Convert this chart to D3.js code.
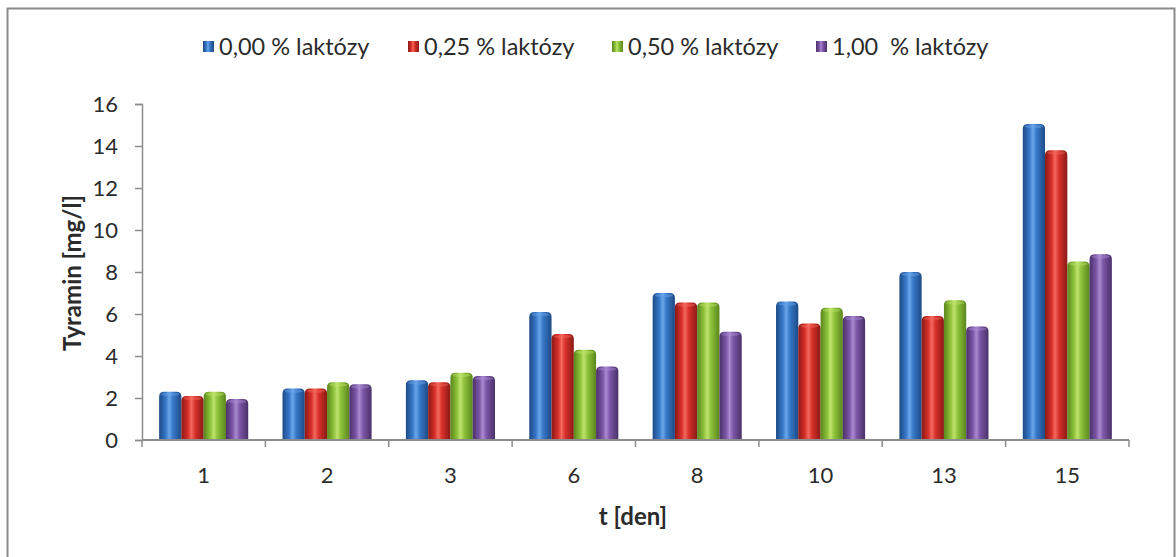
<!DOCTYPE html>
<html>
<head>
<meta charset="utf-8">
<script src="https://cdn.jsdelivr.net/npm/d3@7"></script>
<style>
  html, body { margin: 0; padding: 0; background: #fff; }
  svg { display: block; }
  text { font-family: Lato, "Open Sans", sans-serif; fill: #2b2b2b; }
</style>
</head>
<body>
<svg id="chart" width="1176" height="557"></svg>
<script>
// Tyramin content over ripening time for four lactose levels
const days = ["1", "2", "3", "6", "8", "10", "13", "15"];
const seriesNames = ["0,00 % laktózy", "0,25 % laktózy", "0,50 % laktózy", "1,00  % laktózy"];
const lact000 = [2.3, 2.45, 2.85, 6.1, 7.0, 6.6, 8.0, 15.05];
const lact025 = [2.1, 2.45, 2.75, 5.05, 6.55, 5.55, 5.9, 13.8];
const lact050 = [2.3, 2.75, 3.2, 4.3, 6.55, 6.3, 6.65, 8.5];
const lact100 = [1.95, 2.65, 3.05, 3.5, 5.15, 5.9, 5.4, 8.85];
const yTicks = [0, 2, 4, 6, 8, 10, 12, 14, 16];

const seriesValues = [lact000, lact025, lact050, lact100];
// cylinder shading: edge, mid, highlight
const palette = [
  { edge: "#1d4a86", mid: "#3778c8", hi: "#6aa6ea" },
  { edge: "#8a1915", mid: "#d8302a", hi: "#f4695e" },
  { edge: "#5a861c", mid: "#8dc23a", hi: "#bfe36c" },
  { edge: "#4a3069", mid: "#7c56a6", hi: "#a98ad0" }
];

const svg = d3.select("#chart");
const margin = { left: 142, right: 1129, top: 104, bottom: 440 };

// outer frame
svg.append("rect")
  .attr("x", 7.5).attr("y", 8.5)
  .attr("width", 1167).attr("height", 570)
  .attr("fill", "#fff").attr("stroke", "#8a8a8a").attr("stroke-width", 2);

const defs = svg.append("defs");
palette.forEach((c, i) => {
  const g = defs.append("linearGradient")
    .attr("id", "cyl" + i)
    .attr("x1", "0%").attr("x2", "100%").attr("y1", "0%").attr("y2", "0%");
  g.append("stop").attr("offset", "0%").attr("stop-color", c.edge);
  g.append("stop").attr("offset", "30%").attr("stop-color", c.mid);
  g.append("stop").attr("offset", "45%").attr("stop-color", c.hi);
  g.append("stop").attr("offset", "62%").attr("stop-color", c.mid);
  g.append("stop").attr("offset", "100%").attr("stop-color", c.edge);
});

const x0 = d3.scaleBand().domain(days).range([margin.left, margin.right]).paddingInner(0).paddingOuter(0);
const x1 = d3.scaleBand().domain(d3.range(4)).range([0, x0.bandwidth()]).paddingOuter(0.77).paddingInner(0);
const y = d3.scaleLinear().domain([0, 16]).range([margin.bottom, margin.top]);

// bars with rounded cylinder tops
function barPath(xl, w, yt, yb) {
  const r = Math.min(5, w / 2, (yb - yt));
  return `M${xl},${yb} L${xl},${yt + r} Q${xl},${yt} ${xl + r},${yt} L${xl + w - r},${yt} Q${xl + w},${yt} ${xl + w},${yt + r} L${xl + w},${yb} Z`;
}

const groups = svg.append("g").selectAll("g")
  .data(days)
  .join("g");

groups.each(function (day, di) {
  const g = d3.select(this);
  seriesValues.forEach((vals, si) => {
    const xl = x0(day) + x1(si);
    const w = x1.bandwidth();
    g.append("path")
      .attr("d", barPath(xl, w, y(vals[di]), y(0)))
      .attr("fill", `url(#cyl${si})`);
    // top cap highlight
    g.append("ellipse")
      .attr("cx", xl + w / 2).attr("cy", y(vals[di]) + 2.5)
      .attr("rx", w / 2 - 2).attr("ry", 1.8)
      .attr("fill", palette[si].hi).attr("opacity", 0.45);
  });
});

// y axis
const yAxis = d3.axisLeft(y).tickValues(yTicks).tickSize(7).tickPadding(17).tickFormat(d3.format("d"));
const yg = svg.append("g").attr("transform", `translate(${margin.left},0)`).call(yAxis);
yg.select(".domain").attr("stroke", "#8c8c8c").attr("stroke-width", 1.5);
yg.selectAll(".tick line").attr("stroke", "#8c8c8c").attr("stroke-width", 1.5);
yg.selectAll(".tick text").attr("font-size", 22).attr("fill", "#333").style("font-family", "Lato, sans-serif");

// x axis: ticks at category boundaries
const xg = svg.append("g").attr("transform", `translate(0,${margin.bottom})`);
xg.append("line")
  .attr("x1", margin.left).attr("x2", margin.right)
  .attr("stroke", "#8c8c8c").attr("stroke-width", 2);
const boundaries = days.map(d => x0(d) + x0.bandwidth());
xg.selectAll("line.tk").data([margin.left, ...boundaries]).join("line")
  .attr("class", "tk")
  .attr("x1", d => d).attr("x2", d => d)
  .attr("y1", 0).attr("y2", 7)
  .attr("stroke", "#8c8c8c").attr("stroke-width", 1.5);
xg.selectAll("text").data(days).join("text")
  .attr("x", d => x0(d) + x0.bandwidth() / 2)
  .attr("y", 43)
  .attr("text-anchor", "middle")
  .attr("font-size", 22)
  .text(d => d);

// axis titles
svg.append("text")
  .attr("transform", "translate(81,273) rotate(-90)")
  .attr("text-anchor", "middle")
  .attr("font-size", 24).attr("font-weight", "bold")
  .text("Tyramin [mg/l]");
svg.append("text")
  .attr("x", 633).attr("y", 525)
  .attr("text-anchor", "middle")
  .attr("font-size", 24).attr("font-weight", "bold")
  .text("t [den]");

// legend
const legendX = [203, 408, 612, 816];
const lg = svg.append("g").selectAll("g").data(seriesNames).join("g")
  .attr("transform", (d, i) => `translate(${legendX[i]},47)`);
lg.append("rect")
  .attr("x", 0).attr("y", -6).attr("width", 11).attr("height", 11)
  .attr("fill", (d, i) => `url(#cyl${i})`);
lg.append("text")
  .attr("x", 16).attr("y", 8)
  .attr("font-size", 23.5)
  .style("white-space", "pre")
  .attr("xml:space", "preserve")
  .text(d => d);
</script>
</body>
</html>
